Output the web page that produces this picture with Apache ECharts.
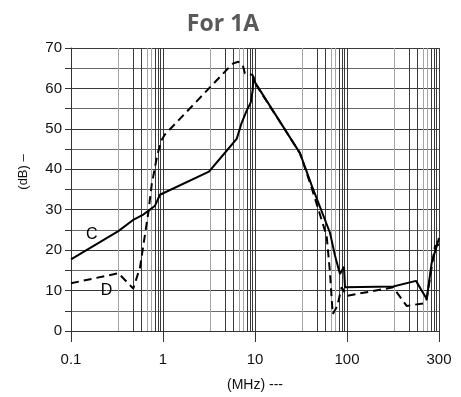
<!DOCTYPE html>
<html><head><meta charset="utf-8">
<script src="https://cdn.jsdelivr.net/npm/echarts@6/dist/echarts.min.js"></script>
<style>html,body{margin:0;padding:0;background:#fff}#c{width:461px;height:397px}</style>
</head><body><div id="c"></div>
<script>
// x values are positions on the drawn log frequency axis (MHz); the last decade end is labelled "300"
const titleText = 'For 1A';
const xAxisName = '(MHz) ---';
const yAxisName = '(dB) \u2013';
const xTickLabels = {0.1: '0.1', 1: '1', 10: '10', 100: '100', 1000: '300'};
const yTickValues = [0, 10, 20, 30, 40, 50, 60, 70];
const seriesNames = ['C', 'D'];
const curveC = [[0.1,17.7],[0.327,24.7],[0.469,27.4],[0.611,28.8],[0.71,29.9],[0.819,31],[0.927,33.7],[3.16,39.4],[4.52,43.6],[6.32,47.5],[7.16,51.5],[8.12,54.5],[8.98,56.5],[9.44,59.5],[9.59,63],[10,61.5],[30.8,44],[41.3,36],[65.3,24.3],[74.1,18.6],[83.9,14.1],[92.7,15.9],[95.1,10.8],[99.3,10.8],[318,11],[562,12.4],[735,7.9],[833,16.9],[944,21],[1000,23]];
const curveD = [[0.1,11.8],[0.327,14.3],[0.475,10.5],[0.562,15.7],[0.692,29.2],[0.754,36.2],[0.867,43.6],[0.968,47.3],[1.05,48.6],[4.92,64.6],[5.81,66.2],[6.58,66.6],[7.35,65.8],[7.78,63.7],[8.83,63.5],[9.44,63.3],[9.75,61.7],[17.2,53],[30.8,44],[41.3,35.4],[60.1,23.5],[65.3,14.5],[69.9,4.2],[78.5,6.2],[83.9,9.1],[87.6,10.8],[99.3,8.7],[318,10.8],[445,6.2],[705,6.9],[735,7.9],[905,21],[1000,21.4]];
const labelC = [0.168, 23.9];
const labelD = [0.244, 10.1];
// minor gridline multipliers within each decade, as drawn
const decadeStarts = [0.1, 1, 10, 100];
const minorMult = [3.3, 4.7, 5.8, 6.8, 7.5, 8.2, 8.9, 9.45];
const minorDark = [false, true, true, false, false, true, true, true];

const minorLines = [];
decadeStarts.forEach(d => minorMult.forEach((m, i) => {
  minorLines.push({xAxis: +(d * m).toPrecision(4), lineStyle: {color: minorDark[i] ? '#3a3a3a' : '#a5a5a5', width: 1, type: 'solid'}});
}));

const chart = echarts.init(document.getElementById('c'), null, {renderer: 'canvas'});
chart.setOption({
  animation: false,
  backgroundColor: '#fff',
  title: {text: titleText, left: 218, top: 8, textAlign: 'center',
    textStyle: {fontFamily: 'Open Sans', fontWeight: 'bold', fontSize: 23, color: '#595959'}},
  grid: {left: 71, right: 22, top: 48, bottom: 65, containLabel: false},
  xAxis: {
    type: 'log', logBase: 10, min: 0.1, max: 1000,
    name: xAxisName, nameLocation: 'middle', nameGap: 47,
    nameTextStyle: {fontFamily: 'Liberation Sans', fontSize: 14, color: '#111'},
    axisLine: {show: true, onZero: false, lineStyle: {color: '#333', width: 1}},
    axisTick: {show: true, length: 11, lineStyle: {color: '#333'}},
    axisLabel: {fontFamily: 'Liberation Sans', fontSize: 15, color: '#111', margin: 21,
      formatter: v => { const k = Object.keys(xTickLabels).find(t => Math.abs(+t - v) / v < 1e-6); return k ? xTickLabels[k] : ''; }},
    splitLine: {show: true, lineStyle: {color: '#3a3a3a', width: 1}},
    minorTick: {show: false}, minorSplitLine: {show: false}
  },
  yAxis: {
    type: 'value', min: 0, max: 70, interval: 5,
    axisLine: {show: true, lineStyle: {color: '#333', width: 1}},
    axisTick: {show: true, length: 6, lineStyle: {color: '#333'}},
    axisLabel: {fontFamily: 'Liberation Sans', fontSize: 15, color: '#111', margin: 9,
      formatter: v => yTickValues.includes(v) ? String(v) : ''},
    splitLine: {show: true, lineStyle: {color: ['#3a3a3a', '#6a6a6a'], width: 1}}
  },
  graphic: [{type: 'text', x: 23, y: 172, rotation: Math.PI / 2,
    style: {text: yAxisName, fontFamily: 'Liberation Sans', fontSize: 13, fill: '#111', align: 'center', verticalAlign: 'middle'}}],
  series: [
    {type: 'line', data: [], silent: true,
      markLine: {silent: true, symbol: ['none', 'none'], label: {show: false}, animation: false, data: minorLines}},
    {name: seriesNames[0], type: 'line', data: curveC, symbol: 'none', z: 5,
      lineStyle: {color: '#000', width: 2, type: 'solid'}},
    {name: seriesNames[1], type: 'line', data: curveD, symbol: 'none', z: 5,
      lineStyle: {color: '#000', width: 2, type: [8, 5]}},
    {type: 'scatter', silent: true, symbolSize: 1, itemStyle: {color: '#fff', opacity: 1}, z: 6,
      data: [{value: labelC, name: seriesNames[0]}, {value: labelD, name: seriesNames[1]}],
      label: {show: true, position: 'inside', formatter: p => p.name, fontFamily: 'Liberation Sans', fontSize: 16,
        color: '#000', textBorderWidth: 0, opacity: 1}}
  ]
});
</script></body></html>
